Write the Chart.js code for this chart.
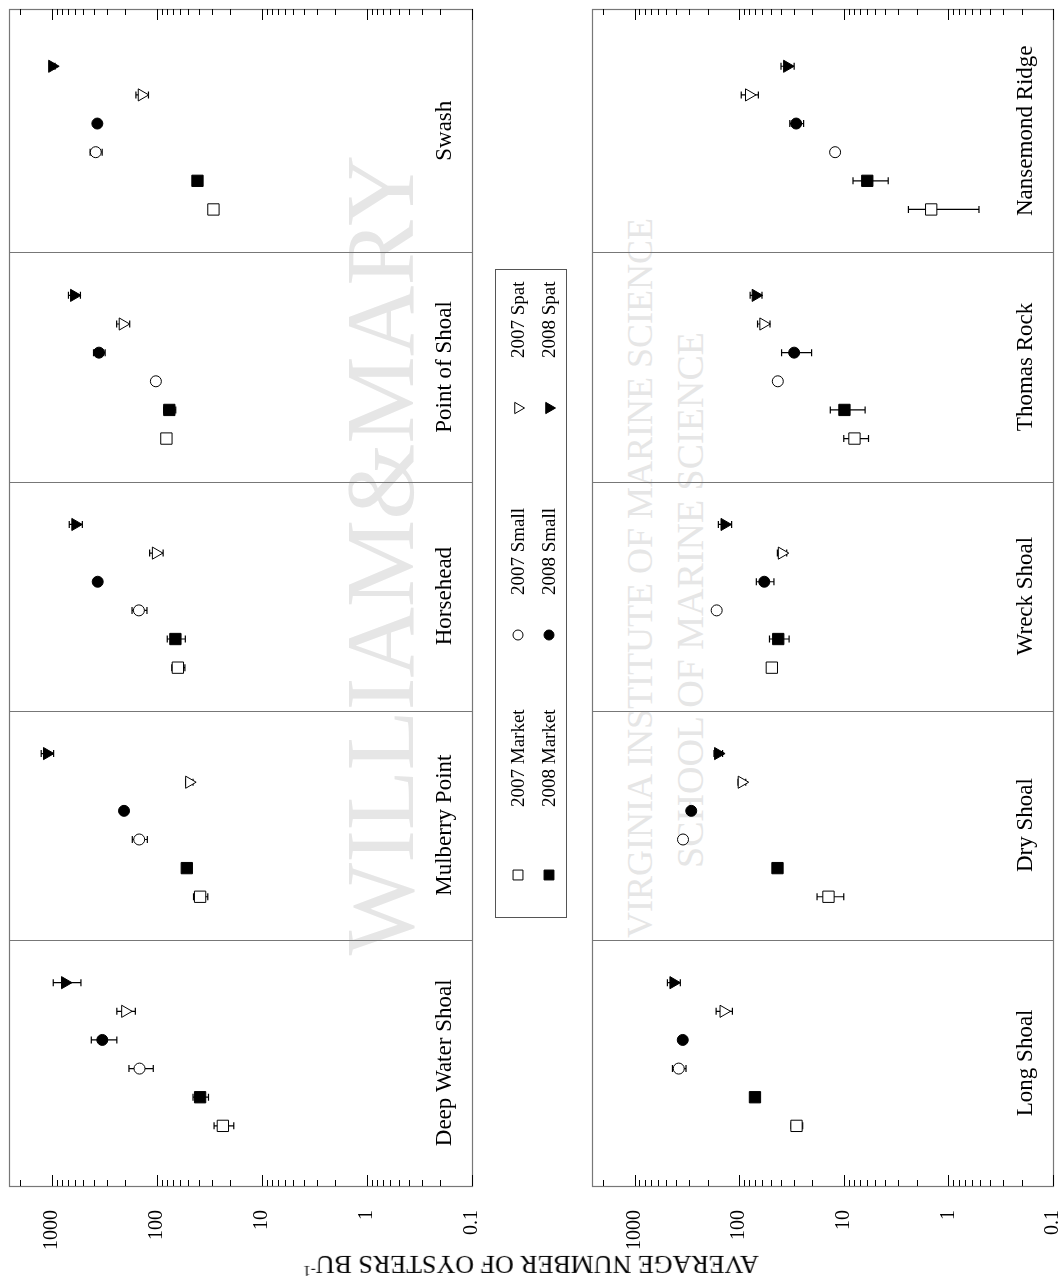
<!DOCTYPE html>
<html>
<head>
<meta charset="utf-8">
<script src="https://cdn.jsdelivr.net/npm/chart.js@4.4.1/dist/chart.umd.min.js"></script>
<style>
  body { margin: 0; background: #fff; width: 1062px; height: 1284px; position: relative; overflow: hidden; font-family: "Liberation Serif", serif; }
  .wm { position: absolute; color: #e6e6e6; white-space: nowrap; transform: translate(-50%, -50%) rotate(-90deg); font-family: "Liberation Serif", serif; }
  canvas { position: absolute; top: 0; }
  #yTitle { position: absolute; left: 531px; top: 1264px; transform: translate(-50%, -50%) rotate(180deg); font-size: 26px; white-space: nowrap; color: #000; }
  #yTitle sup { font-size: 15px; }
</style>
</head>
<body>
<div class="wm" style="left:380px; top:555px; font-size:98px;">WILLIAM&amp;MARY</div>
<div class="wm" style="left:640px; top:578px; font-size:36px;">VIRGINIA INSTITUTE OF MARINE SCIENCE</div>
<div class="wm" style="left:690px; top:600px; font-size:38px;">SCHOOL OF MARINE SCIENCE</div>
<canvas id="leftChart" width="580" height="1284" style="left:0"></canvas>
<canvas id="rightChart" width="482" height="1284" style="left:580px"></canvas>
<div id="yTitle">AVERAGE NUMBER OF OYSTERS BU<sup>-1</sup></div>
<script>
// sites, top to bottom: left column then right column
const sites = ["Swash", "Point of Shoal", "Horsehead", "Mulberry Point", "Deep Water Shoal",
               "Nansemond Ridge", "Thomas Rock", "Wreck Shoal", "Dry Shoal", "Long Shoal"];

// mean and standard error, oysters per bushel
const spat2008     = [990, 613, 596, 1109, 747, 34.8, 69.5, 138, 159, 425];
const spat2008Se   = [60, 80, 85, 150, 220, 5, 9, 20, 15, 60];
const spat2007     = [139, 211, 102, 49.2, 200, 80.5, 58.7, 39.1, 94.5, 141];
const spat2007Se   = [19, 30, 15, 4, 40, 15, 8, 4, 8, 25];
const small2008    = [368, 355, 365, 205, 330, 28.5, 29.8, 57.5, 287, 346];
const small2008Se  = [15, 45, 20, 15, 90, 4.3, 9.5, 11, 10, 10];
const small2007    = [381, 102, 148, 147, 146, 12.1, 42.7, 164, 344, 378];
const small2007Se  = [50, 4, 24, 24, 38, 0.8, 2, 5, 10, 56];
const market2008   = [41, 76, 66.5, 51.8, 38.7, 5.96, 9.85, 42.3, 43, 70.6];
const market2008Se = [2, 10, 13, 3, 6.5, 2.2, 3.6, 9, 2, 3];
const market2007   = [28.9, 81, 63, 38.7, 23.5, 1.46, 7.9, 48.7, 14, 28.3];
const market2007Se = [3, 3, 9, 6, 5, 0.95, 2.1, 2, 4, 3.6];

const majorTicks = [1000, 100, 10, 1, 0.1];
const tickLabels = ["1000", "100", "10", "1", "0.1"];

const X_MIN = 0.1, X_MAX = 2550;
const PANEL_EDGES = [0, 8.5, 16.5, 24.5, 32.5, 41.1];

const series = [
  { label: "2008 Spat",   mean: spat2008,   se: spat2008Se,   style: "triangle", filled: true,  r: 7 },
  { label: "2007 Spat",   mean: spat2007,   se: spat2007Se,   style: "triangle", filled: false, r: 7 },
  { label: "2008 Small",  mean: small2008,  se: small2008Se,  style: "circle",   filled: true,  r: 5.5 },
  { label: "2007 Small",  mean: small2007,  se: small2007Se,  style: "circle",   filled: false, r: 5.5 },
  { label: "2008 Market", mean: market2008, se: market2008Se, style: "rect",     filled: true,  r: 8 },
  { label: "2007 Market", mean: market2007, se: market2007Se, style: "rect",     filled: false, r: 8 }
];

// minor log ticks 2..9 per decade
const minorTicks = [];
for (let d = -1; d <= 3; d++) {
  for (let m = 2; m <= 9; m++) {
    const v = m * Math.pow(10, d);
    if (v < X_MAX) minorTicks.push(v);
  }
}

const FONT = "Liberation Serif";
Chart.defaults.font.family = FONT;
Chart.defaults.color = "#000";

function drawMarker(ctx, s, x, y, r) {
  ctx.save();
  ctx.fillStyle = s.filled ? "#000" : "#fff";
  ctx.strokeStyle = "#000";
  ctx.lineWidth = 1;
  Chart.helpers.drawPoint(ctx, { pointStyle: s.style, rotation: s.style === "triangle" ? 90 : 0, radius: r, borderWidth: 1 }, x, y);
  ctx.restore();
}

const framePlugin = {
  id: "frame",
  beforeDatasetsDraw(chart) {
    const { ctx, chartArea: ca, scales } = chart;
    const xs = scales.x, ys = scales.y;
    ctx.save();
    // panel dividers
    ctx.strokeStyle = "#777";
    ctx.lineWidth = 1.2;
    PANEL_EDGES.slice(1, -1).forEach(v => {
      const py = Math.round(ys.getPixelForValue(v)) + 0.5;
      ctx.beginPath(); ctx.moveTo(ca.left, py); ctx.lineTo(ca.right, py); ctx.stroke();
    });
    ctx.strokeRect(Math.round(ca.left) + 0.5, Math.round(ca.top) + 0.5, Math.round(ca.width), Math.round(ca.height));
    // inward ticks top and bottom
    ctx.strokeStyle = "#000";
    ctx.lineWidth = 1;
    const tick = (v, len) => {
      const px = Math.round(xs.getPixelForValue(v)) + 0.5;
      ctx.beginPath();
      ctx.moveTo(px, ca.bottom); ctx.lineTo(px, ca.bottom - len);
      ctx.moveTo(px, ca.top); ctx.lineTo(px, ca.top + len);
      ctx.stroke();
    };
    majorTicks.forEach(v => tick(v, 11));
    minorTicks.forEach(v => tick(v, 6));
    // error bars
    ctx.lineWidth = 1.2;
    chart.data.datasets.forEach(ds => {
      ds.data.forEach(pt => {
        const py = ys.getPixelForValue(pt.y);
        const hi = xs.getPixelForValue(pt.x + pt.se);
        const lo = xs.getPixelForValue(Math.max(pt.x - pt.se, X_MIN));
        ctx.beginPath();
        ctx.moveTo(hi, py); ctx.lineTo(lo, py);
        ctx.moveTo(hi, py - 3.5); ctx.lineTo(hi, py + 3.5);
        ctx.moveTo(lo, py - 3.5); ctx.lineTo(lo, py + 3.5);
        ctx.stroke();
      });
    });
    ctx.restore();
  },
  afterDraw(chart) {
    const { ctx, chartArea: ca, scales } = chart;
    const names = chart.options.plugins.frame.names;
    ctx.save();
    ctx.fillStyle = "#000";
    ctx.font = "23px " + FONT;
    ctx.textAlign = "center";
    ctx.textBaseline = "middle";
    names.forEach((n, k) => {
      const yc = (scales.y.getPixelForValue(PANEL_EDGES[k]) + scales.y.getPixelForValue(PANEL_EDGES[k + 1])) / 2;
      ctx.save();
      ctx.translate(ca.right - 27, yc);
      ctx.rotate(-Math.PI / 2);
      ctx.fillText(n, 0, 0);
      ctx.restore();
    });
    ctx.restore();
  }
};

const legendPlugin = {
  id: "sideLegend",
  afterDraw(chart) {
    const ctx = chart.ctx;
    ctx.save();
    ctx.strokeStyle = "#555";
    ctx.lineWidth = 1;
    ctx.strokeRect(495.5, 269.5, 71, 648);
    const rowY = { Market: 875, Small: 635, Spat: 408 };
    const gap = { Market: 68, Small: 40, Spat: 50 };
    series.forEach(s => {
      const [year, kind] = s.label.split(" ");
      const x = year === "2007" ? 518 : 549;
      const y = rowY[kind];
      drawMarker(ctx, s, x, y, s.style === "rect" ? 7 : s.style === "circle" ? 5 : 6.5);
      ctx.save();
      ctx.fillStyle = "#000";
      ctx.font = "19px " + FONT;
      ctx.textBaseline = "middle";
      ctx.textAlign = "left";
      ctx.translate(x, y - gap[kind]);
      ctx.rotate(-Math.PI / 2);
      ctx.fillText(s.label, 0, 1);
      ctx.restore();
    });
    ctx.restore();
  }
};

function makeChart(id, first, pad, extraPlugins) {
  const idx = [0, 1, 2, 3, 4].map(k => first + k);
  const datasets = series.map((s, j) => ({
    label: s.label,
    data: idx.map((i, k) => ({ x: s.mean[i], y: k * 8 + 2 + j, se: s.se[i] })),
    pointStyle: s.style,
    rotation: s.style === "triangle" ? 90 : 0,
    pointRadius: s.r,
    pointBorderWidth: 1,
    backgroundColor: s.filled ? "#000" : "#fff",
    borderColor: "#000",
    showLine: false
  }));
  return new Chart(document.getElementById(id), {
    type: "scatter",
    data: { datasets },
    options: {
      responsive: false,
      animation: false,
      events: [],
      layout: { padding: pad },
      plugins: {
        legend: { display: false },
        tooltip: { enabled: false },
        frame: { names: idx.map(i => sites[i]) }
      },
      scales: {
        x: {
          type: "logarithmic",
          reverse: true,
          min: X_MIN,
          max: X_MAX,
          position: "bottom",
          grid: { display: false },
          border: { display: false },
          afterBuildTicks: sc => { sc.ticks = majorTicks.map(v => ({ value: v })); },
          afterFit: sc => { sc.height = 98; sc.paddingLeft = 0; sc.paddingRight = 0; },
          ticks: {
            autoSkip: false,
            minRotation: 90,
            maxRotation: 90,
            padding: 16,
            color: "#000",
            font: { family: FONT, size: 20 },
            callback: (v, i) => tickLabels[i]
          }
        },
        y: { type: "linear", reverse: true, min: PANEL_EDGES[0], max: PANEL_EDGES[5], display: false }
      }
    },
    plugins: [framePlugin].concat(extraPlugins)
  });
}

makeChart("leftChart", 0, { left: 8, right: 108, top: 6, bottom: 0 }, [legendPlugin]);
makeChart("rightChart", 5, { left: 12, right: 8, top: 6, bottom: 0 }, []);
</script>
</body>
</html>
